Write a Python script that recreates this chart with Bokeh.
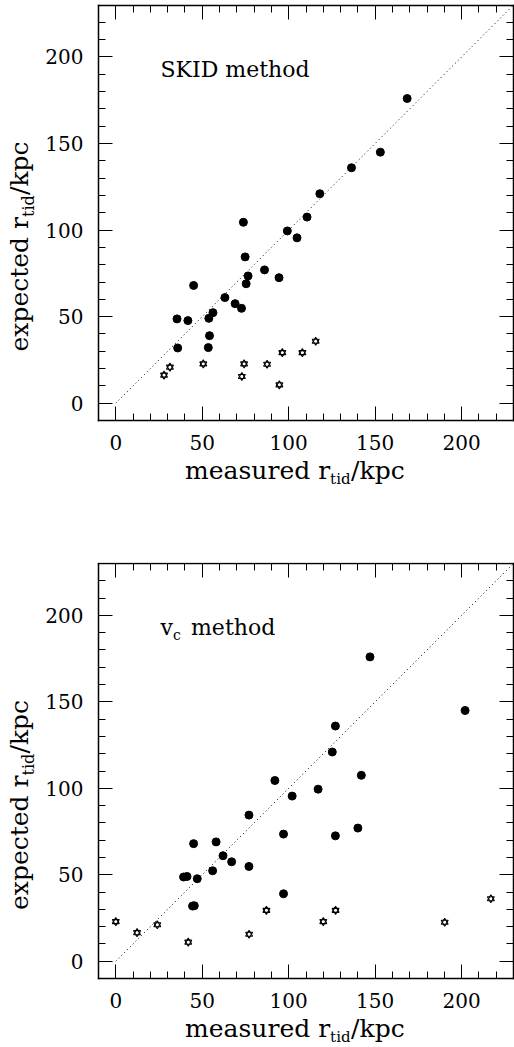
import math
from bokeh.plotting import figure
from bokeh.models import (FixedTicker, LinearAxis, Range1d, Label,
                          CustomLabelingPolicy)
from bokeh.layouts import column
from bokeh.embed import file_html
from bokeh.resources import INLINE

# ---------------- data ----------------
expected_filled = [176, 145, 136, 121, 107.5, 104.5, 99.5, 95.5, 84.5, 77, 73.5, 72.5,
                   69, 68, 61, 57.5, 54.8, 52.3, 49, 48.7, 47.7, 39, 31.9, 32.1]
skid_measured = [168.5, 153, 136.3, 118, 110.6, 73.8, 99.2, 104.8, 74.8, 86, 76.5, 94.4,
                 75.4, 45, 63.1, 69, 72.7, 56.2, 53.8, 35.4, 41.7, 54.2, 35.8, 53.5]
vc_measured = [147, 202, 127, 125.2, 142, 92, 117, 102, 77, 140, 97, 127,
               58, 45, 62, 67, 77, 56, 41.2, 39.2, 47.1, 97, 44.4, 45.4]

skid_star_measured = [27.9, 31.3, 50.6, 72.9, 74.2, 87.5, 94.6, 96.3, 107.9, 115.6]
skid_star_expected = [16.2, 20.8, 22.7, 15.4, 22.7, 22.5, 10.6, 29.2, 29.2, 35.8]
vc_star_measured = [0, 12.3, 24, 41.9, 77.1, 87.1, 120, 127.1, 190.2, 216.9]
vc_star_expected = [22.9, 16.5, 21.1, 11, 15.6, 29.4, 22.9, 29.4, 22.5, 36.1]

one_to_one = [0, 230]
LO, HI = -10, 230
major_ticks = [0, 50, 100, 150, 200]
minor_ticks = list(range(0, 230, 10))
tick_labels = {0: "0", 50: "50", 100: "100", 150: "150", 200: "200"}

FONT = "DejaVu Serif"

# ---------------- layout (pixels) ----------------
W = 514
BOX_L, BOX_R = 98, 513
KX = (BOX_R - BOX_L) / (HI - LO)


def style_axis(ax, show_labels, standoff, loc):
    ax.fixed_location = loc
    ax.bounds = (LO, HI)
    ax.ticker = FixedTicker(ticks=major_ticks, minor_ticks=minor_ticks)
    ax.axis_line_color = "black"
    ax.axis_line_width = 1.5
    ax.axis_line_cap = "square"
    ax.major_tick_in = 14
    ax.major_tick_out = 0
    ax.minor_tick_in = 7
    ax.minor_tick_out = 0
    ax.major_tick_line_color = "black"
    ax.minor_tick_line_color = "black"
    ax.major_tick_line_width = 1
    ax.minor_tick_line_width = 1
    if show_labels:
        ax.major_label_overrides = tick_labels
        ax.major_label_text_font = FONT
        ax.major_label_text_font_size = "20px"
        ax.major_label_text_color = "black"
        ax.major_label_standoff = standoff
    else:
        ax.major_label_policy = CustomLabelingPolicy(
            code="for (const i of Array.from(indices)) { indices.unset(i) }")


def add_label(p, x, y, text, size, align="left", rotated=False, xo=0, yo=0):
    # compensate the renderer's baseline placement (text sits ~1/3 em low)
    fix = 0.33 * size
    if rotated:
        xo -= fix
    else:
        yo += fix
    p.add_layout(Label(x=x, y=y, x_units="data", y_units="data", text=text,
                       text_font=FONT, text_font_size=f"{size}px", text_align=align,
                       text_baseline="alphabetic", text_color="black",
                       angle=math.pi / 2 if rotated else 0.0,
                       x_offset=xo, y_offset=yo))


def make_panel(mx, my, smx, smy, height, box_top, box_bottom):
    ky = (box_bottom - box_top) / (HI - LO)
    xr = Range1d(LO - BOX_L / KX, HI + (W - BOX_R) / KX)
    yr = Range1d(LO - (height - box_bottom) / ky, HI + box_top / ky)
    p = figure(width=W, height=height, x_range=xr, y_range=yr,
               output_backend="svg", toolbar_location=None,
               x_axis_location=None, y_axis_location=None,
               min_border=0, min_border_left=0, min_border_right=0,
               min_border_top=0, min_border_bottom=0,
               background_fill_color="white", border_fill_color="white")
    p.grid.visible = False
    p.outline_line_color = None

    bottom = LinearAxis()
    left = LinearAxis()
    top = LinearAxis()
    right = LinearAxis()
    style_axis(bottom, True, 14, LO)
    style_axis(left, True, 15, LO)
    style_axis(top, False, 0, HI)
    style_axis(right, False, 0, HI)
    p.add_layout(bottom, "below")
    p.add_layout(left, "left")
    p.add_layout(top, "above")
    p.add_layout(right, "right")

    p.line(one_to_one, one_to_one, line_color="black", line_width=1, line_dash="1 3")
    p.scatter(mx, my, marker="circle", size=8, fill_color="black", line_color="black")
    p.scatter(smx, smy, marker="triangle", size=7, fill_color=None,
              line_color="black", line_width=1.1)
    p.scatter(smx, smy, marker="inverted_triangle", size=7, fill_color=None,
              line_color="black", line_width=1.1)

    # x title: "measured r_tid/kpc"
    xb = LO - 58.5 / ky
    xa = LO + (329.6 - BOX_L) / KX
    add_label(p, xa, xb, "measured r", 25, align="right")
    add_label(p, xa, xb, "tid", 15, yo=-5)
    add_label(p, xa, xb, "/kpc", 25, xo=21)
    # y title: "expected r_tid/kpc" (rotated)
    yb = LO - (BOX_L - 27) / KX
    ya = HI - 212 / ky
    add_label(p, yb, ya, "expected r", 25, align="right", rotated=True)
    add_label(p, yb, ya, "tid", 16, rotated=True, xo=6)
    add_label(p, yb, ya, "/kpc", 25, rotated=True, yo=22)
    return p, ky


p1, ky1 = make_panel(skid_measured, expected_filled, skid_star_measured,
                     skid_star_expected, 562, 4.5, 420)
name_x = LO + (160 - BOX_L) / KX
add_label(p1, name_x, HI - 71.5 / ky1, "SKID method", 22)

p2, ky2 = make_panel(vc_measured, expected_filled, vc_star_measured,
                     vc_star_expected, 484, 1, 416)
add_label(p2, name_x, HI - 71.5 / ky2, "v", 22)
add_label(p2, name_x, HI - 71.5 / ky2, "c", 14, xo=12.5, yo=-5)
add_label(p2, name_x, HI - 71.5 / ky2, "method", 22, xo=30.5)

layout = column(p1, p2)
open("out.html", "w").write(file_html(layout, INLINE))
